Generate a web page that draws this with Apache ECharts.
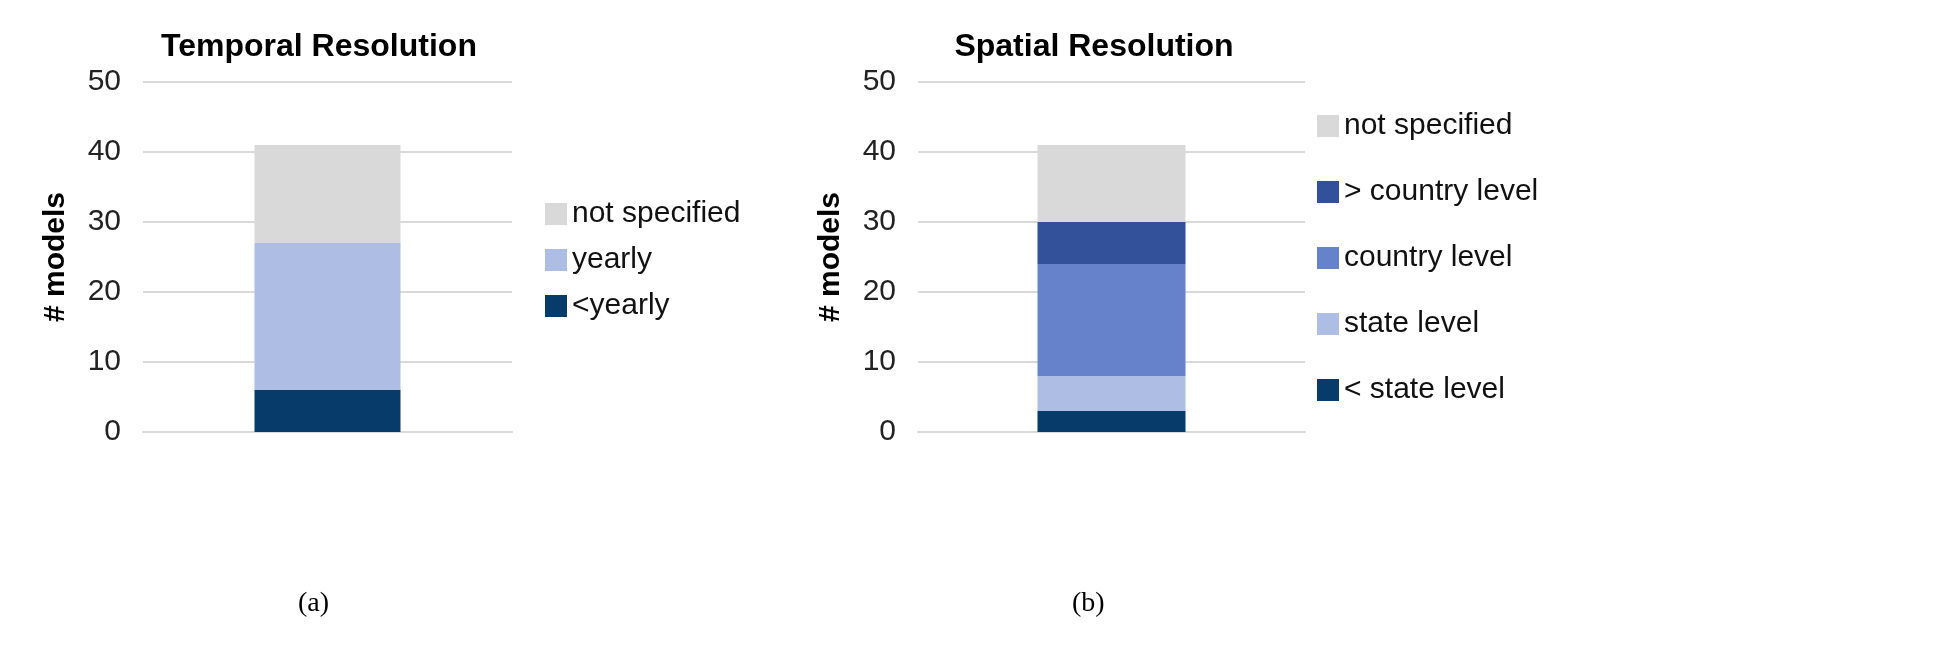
<!DOCTYPE html>
<html><head><meta charset="utf-8">
<script src="https://cdn.jsdelivr.net/npm/echarts@6/dist/echarts.min.js"></script>
<style>html,body{margin:0;padding:0;background:#fff}#c{width:1950px;height:662px}</style>
</head><body><div id="c"></div>
<script>
var chart = echarts.init(document.getElementById('c'));

// temporal resolution (stack order bottom -> top)
var temporalNames = ['<yearly', 'yearly', 'not specified'];
var temporalValues = [6, 21, 14];
var temporalColors = ['#073b69', '#aebde4', '#d9d9d9'];

// spatial resolution (stack order bottom -> top)
var spatialNames = ['< state level', 'state level', 'country level', '> country level', 'not specified'];
var spatialValues = [3, 5, 16, 6, 11];
var spatialColors = ['#073b69', '#aebde4', '#6582ca', '#33509a', '#d9d9d9'];

var FONT = 'Liberation Sans Narrow, Liberation Sans, sans-serif';

function yAxis(grid) {
    return {
        type: 'value', gridIndex: grid, min: 0, max: 50, interval: 10,
        name: '# models', nameLocation: 'middle', nameGap: 72, nameRotate: 90,
        nameTextStyle: {fontFamily: FONT, fontSize: 30, fontWeight: 'bold', color: '#000'},
        axisLine: {show: false}, axisTick: {show: false},
        axisLabel: {fontFamily: FONT, fontSize: 30, color: '#222', margin: 22},
        splitLine: {lineStyle: {color: '#d9d9d9', width: 2}}
    };
}
function xAxis(grid) {
    return {
        type: 'category', gridIndex: grid, data: [''],
        axisLine: {lineStyle: {color: '#d9d9d9', width: 2}},
        axisTick: {show: false}, axisLabel: {show: false}
    };
}

var series = [];
temporalNames.forEach(function (n, i) {
    series.push({name: n, type: 'bar', stack: 't', xAxisIndex: 0, yAxisIndex: 0,
        barWidth: 146, itemStyle: {color: temporalColors[i]}, data: [temporalValues[i]]});
});
spatialNames.forEach(function (n, i) {
    series.push({name: n, type: 'bar', stack: 's', xAxisIndex: 1, yAxisIndex: 1,
        barWidth: 148, itemStyle: {color: spatialColors[i]}, data: [spatialValues[i]]});
});

var legendText = {fontFamily: FONT, fontSize: 30, color: '#111'};

chart.setOption({
    animation: false,
    title: [
        {text: 'Temporal Resolution', left: 314, top: 26, textAlign: 'center',
         textStyle: {fontFamily: FONT, fontSize: 32, fontWeight: 'bold', color: '#000'}},
        {text: 'Spatial Resolution', left: 1089, top: 26, textAlign: 'center',
         textStyle: {fontFamily: FONT, fontSize: 32, fontWeight: 'bold', color: '#000'}}
    ],
    grid: [
        {left: 143, top: 82, width: 369, height: 350},
        {left: 918, top: 82, width: 387, height: 350}
    ],
    xAxis: [xAxis(0), xAxis(1)],
    yAxis: [yAxis(0), yAxis(1)],
    legend: [
        {data: temporalNames.slice().reverse(), orient: 'vertical', left: 540, top: 194, icon: 'rect',
         itemWidth: 22, itemHeight: 22, itemGap: 16, textStyle: legendText},
        {data: spatialNames.slice().reverse(), orient: 'vertical', left: 1312, top: 106, icon: 'rect',
         itemWidth: 22, itemHeight: 22, itemGap: 36, textStyle: legendText}
    ],
    graphic: [
        {type: 'text', left: 298, top: 590, style: {text: '(a)', font: '28px "Liberation Serif", serif', fill: '#000'}},
        {type: 'text', left: 1072, top: 590, style: {text: '(b)', font: '28px "Liberation Serif", serif', fill: '#000'}}
    ],
    series: series
});
</script></body></html>
